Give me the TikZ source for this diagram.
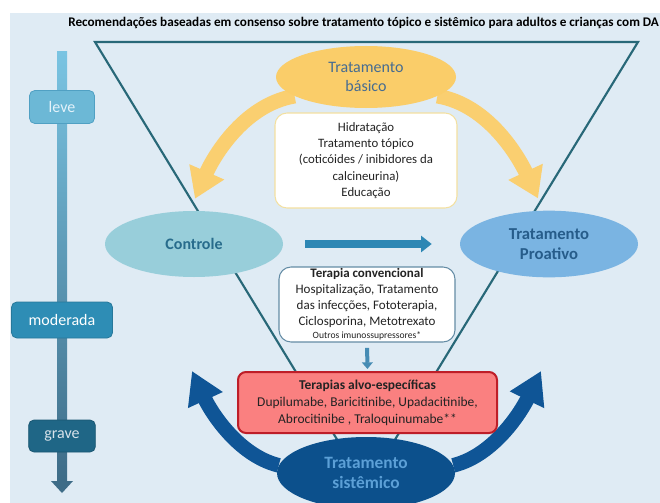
\documentclass[tikz,border=0pt]{standalone}
\usepackage{fontspec}
\setmainfont{Carlito}
\usetikzlibrary{shapes.geometric,arrows.meta,calc,backgrounds}

\definecolor{panel}{RGB}{223,235,244}
\definecolor{triline}{RGB}{40,104,120}
\definecolor{basicY}{RGB}{250,205,105}
\definecolor{yarrowc}{RGB}{250,207,112}
\definecolor{hidborder}{RGB}{243,224,160}
\definecolor{ctrlfill}{RGB}{152,206,218}
\definecolor{ctrltext}{RGB}{40,108,140}
\definecolor{proafill}{RGB}{122,180,226}
\definecolor{proatext}{RGB}{38,92,138}
\definecolor{harrow}{RGB}{45,135,180}
\definecolor{convborder}{RGB}{100,140,165}
\definecolor{darrowc}{RGB}{70,140,180}
\definecolor{redfill}{RGB}{250,128,128}
\definecolor{redborder}{RGB}{190,30,40}
\definecolor{sysfill}{RGB}{12,80,140}
\definecolor{systext}{RGB}{92,160,215}
\definecolor{bluearrow}{RGB}{15,85,150}
\definecolor{basictext}{RGB}{70,108,145}
\definecolor{levefill}{RGB}{108,184,214}
\definecolor{leveborder}{RGB}{80,160,195}
\definecolor{modfill}{RGB}{46,141,181}
\definecolor{gravefill}{RGB}{31,102,134}
\definecolor{bartop}{RGB}{122,196,226}
\definecolor{barbot}{RGB}{62,108,135}
\definecolor{bodytext}{RGB}{35,35,35}

\begin{document}
\begin{tikzpicture}[x=0.75pt,y=-0.75pt,
  oval/.style={ellipse, inner sep=0pt, align=center},
  infobox/.style={rectangle, rounded corners=9pt, align=center, inner sep=0pt, text=bodytext},
  sevbox/.style={rectangle, rounded corners=4pt, inner sep=0pt, font=\fontsize{12}{14}\selectfont},
  yarrow/.style={draw=yarrowc, line width=11pt, -{Triangle[length=22pt,width=27pt]}},
  barrow/.style={draw=bluearrow, line width=11pt, -{Triangle[length=24pt,width=27pt]}},
]
\useasboundingbox (0,0) rectangle (660,503);

% title
\node[anchor=base west, inner sep=0pt, font=\fontsize{9.9}{12}\selectfont\bfseries, text=black] (title) at (68,27)
  {Recomendações baseadas em consenso sobre tratamento tópico e sistêmico para adultos e crianças com DA};

% main nodes
\node[oval, fill=basicY, minimum width=135pt, minimum height=46.5pt, text=basictext,
      font=\fontsize{12}{14.25}\selectfont] (basico) at (366,77) {Tratamento\\básico};

\node[infobox, fill=white, draw=hidborder, line width=0.8pt, minimum width=136.5pt, minimum height=71.25pt,
      font=\fontsize{9.6}{12.2}\selectfont] (hid) at (366,160.5)
  {Hidratação\\Tratamento tópico\\(coticóides / inibidores da\\calcineurina)\\Educação};

\node[oval, fill=ctrlfill, minimum width=133.5pt, minimum height=49.5pt, text=ctrltext,
      font=\fontsize{12}{14}\selectfont\bfseries] (controle) at (194,244) {Controle};

\node[oval, fill=proafill, minimum width=133.5pt, minimum height=50pt, text=proatext,
      font=\fontsize{12.5}{15}\selectfont\bfseries] (proativo) at (549,244) {Tratamento\\Proativo};

\node[infobox, fill=white, draw=convborder, line width=0.8pt, minimum width=132pt, minimum height=56.25pt,
      font=\fontsize{9.75}{12}\selectfont] (conv) at (367,304.5)
  {\textbf{Terapia convencional}\\Hospitalização, Tratamento\\das infecções, Fototerapia,\\Ciclosporina, Metotrexato\\[-2.5pt]{\fontsize{7.2}{8.5}\selectfont Outros imunossupressores*}};

\node[infobox, rounded corners=6pt, fill=redfill, draw=redborder, line width=1.5pt, minimum width=194.25pt, minimum height=45.75pt,
      font=\fontsize{10.1}{12.75}\selectfont] (alvo) at (367.5,402.5)
  {\textbf{Terapias alvo-específicas}\\Dupilumabe, Baricitinibe, Upadacitinibe,\\Abrocitinibe , Traloquinumabe**};

\node[oval, fill=sysfill, minimum width=133.5pt, minimum height=54pt, text=systext,
      font=\fontsize{13}{15}\selectfont\bfseries] (sist) at (366,473) {Tratamento\\sistêmico};

% severity boxes
\node[sevbox, fill=levefill, draw=leveborder, line width=0.6pt, text={rgb,255:red,228;green,242;blue,250},
      minimum width=48.75pt, minimum height=24.75pt] (leve) at (62,107) {leve};
\node[sevbox, fill=modfill, draw=modfill!85!black, line width=0.6pt, text=white,
      minimum width=75.75pt, minimum height=27pt] (moderada) at (62,320) {moderada};
\node[sevbox, fill=gravefill, draw=gravefill!85!black, line width=0.6pt, text={rgb,255:red,215;green,226;blue,234},
      minimum width=50pt, minimum height=24pt] (grave) at (62,436) {grave};

\begin{scope}[on background layer]
  \fill[white] (0,0) rectangle (660,503);
  \fill[panel] (10,13) rectangle (660,503);
  % severity bar
  \shade[top color=bartop, bottom color=barbot] (57,52) rectangle (67,482);
  \fill[barbot] (51,481) -- (73,481) -- (62,493) -- cycle;
  % funnel
  \coordinate (tl) at (95,42);
  \coordinate (tr) at (638,42);
  \coordinate (apex) at (366,487);
  \draw[triline, line width=1.6pt, line join=miter] (tl) -- (tr) -- (apex) -- cycle;
  % yellow arrows
  \draw[yarrow] (basico.195) .. controls (242,105) and (212,160) .. ($(controle.north)+(1,-12)$);
  \draw[yarrow] (basico.-15) .. controls (490,105) and (520,160) .. ($(proativo.north)+(-11,-12)$);
  % blue arrows
  \draw[barrow] (sist.175) .. controls (237,455) and (210,410) .. (192,371);
  \draw[barrow] (sist.5) .. controls (495,455) and (522,410) .. (541,371);
\end{scope}

% horizontal arrow and small down arrow
\draw[harrow, line width=6pt, shorten <=16.5pt, shorten >=21pt, -{Triangle[length=8pt,width=12pt]}] (controle.east) -- (proativo.west);
\draw[darrowc, line width=3pt, shorten <=4pt, shorten >=1.5pt, -{Triangle[length=5pt,width=8pt]}] (conv.south) -- (alvo.north);

\end{tikzpicture}
\end{document}
